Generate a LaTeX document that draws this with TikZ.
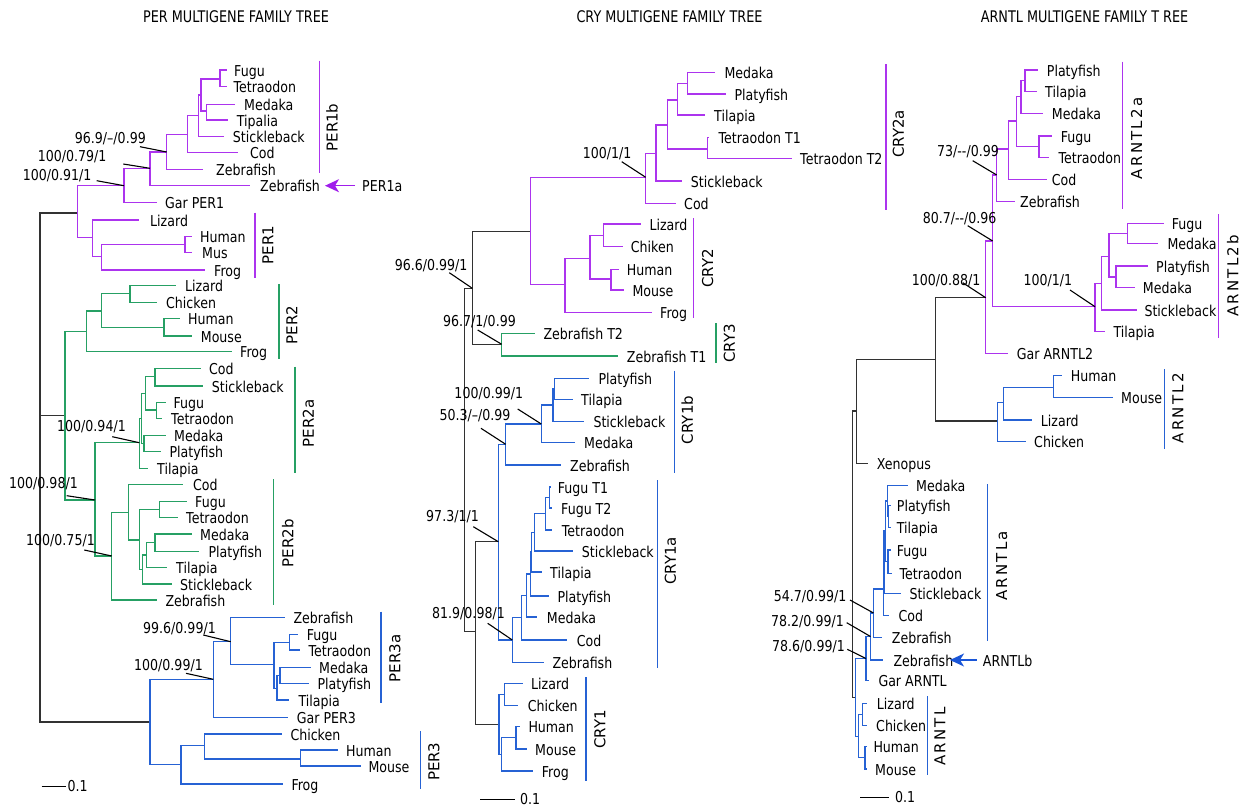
\documentclass[tikz,border=0pt]{standalone}
\usepackage{fontspec}
\setmainfont{DejaVu Sans}[FakeStretch=0.84]
\newfontfamily\barfont{DejaVu Sans}
\newfontfamily\barfontsp{DejaVu Sans}[LetterSpace=15]
\newfontfamily\titlefont{DejaVu Sans}[FakeStretch=0.8]
\usetikzlibrary{arrows.meta}
\definecolor{purp}{RGB}{172,52,238}
\definecolor{grn}{RGB}{38,160,100}
\definecolor{blu}{RGB}{38,98,212}
\definecolor{blk}{RGB}{50,50,50}
\definecolor{arrp}{RGB}{160,30,235}
\definecolor{arrb}{RGB}{25,85,215}
\tikzset{
  lab/.style={font=\fontsize{15}{18}\selectfont, inner sep=0pt, text=black},
  ptr/.style={draw=black, line width=1.1pt},
  tr/.style={line width=1.2pt},
  bar/.style={line width=1.4pt},
  barlab/.style={font={\barfont\fontsize{15}{18}\selectfont}, rotate=90, inner sep=0pt},
  barlabsp/.style={font={\barfontsp\fontsize{15}{18}\selectfont}, rotate=90, inner sep=0pt},
  ttl/.style={font={\titlefont\fontsize{16}{19}\selectfont}, inner sep=0pt, anchor=base},
  arrowp/.style={draw=arrp, line width=1.5pt, -{Stealth[length=14pt,width=13pt,inset=4pt,fill=arrp]}},
  arrowb/.style={draw=arrb, line width=1.5pt, -{Stealth[length=14pt,width=13pt,inset=4pt,fill=arrb]}}
}
\newcommand{\mkleaf}[5]{\coordinate (#1) at (#2,#3);\node[lab,anchor=base west] (#1-l) at (#4,#3+6) {#5};}
\newcommand{\mkclade}[3]{\foreach \chld in {#3}{\draw[tr,#1] (#2) |- (\chld);}}
\newcommand{\mkboot}[7]{\node[lab,anchor=base east] (#1) at (#2,#3) {#4};\coordinate (#1-s) at (#5,#6);\draw[ptr] (#1-s) -- (#7);}
\newcommand{\mkbar}[8]{\coordinate (#8-a) at (#2,#3);\coordinate (#8-b) at (#2,#4);\draw[bar,#1] (#8-a) -- (#8-b);\node[#7] (#8) at (#5,#6) {#8};}
\begin{document}
\begin{tikzpicture}[x=1pt,y=-1pt]
\useasboundingbox (0,0) rectangle (1240,806);
% titles
\node[ttl] (t1) at (236,22) {PER MULTIGENE FAMILY TREE};
\node[ttl] (t2) at (669.5,22) {CRY MULTIGENE FAMILY TREE};
\node[ttl] (t3) at (1084.5,22) {ARNTL MULTIGENE FAMILY T REE};

% ================= PER =================
\coordinate (p0) at (40,415);
\coordinate (pA) at (77.7,213);
\coordinate (pK) at (65,415.5);
\coordinate (pW) at (150,722);
\mkclade{blk}{p0}{pA,pK,pW}
% purple PER1
\coordinate (pB) at (124,185.7);
\coordinate (pC) at (92.7,237.7);
\coordinate (pD) at (150,168.3);
\coordinate (pE) at (166.7,152);
\coordinate (pF) at (187.7,134.3);
\coordinate (pG) at (198.7,115.7);
\coordinate (pH) at (201,95);
\coordinate (pFT) at (220,79);
\coordinate (pMT) at (206.7,111);
\coordinate (pI) at (101.7,256.7);
\coordinate (pJ) at (185,244.7);
\mkleaf{garP1}{157}{202.3}{165}{Gar PER1}
\mkleaf{zfP1a}{250}{185.7}{260}{Zebrafish}
\mkleaf{zfP1b}{203.3}{169.3}{216}{Zebrafish}
\mkleaf{codP1}{238}{152.3}{250}{Cod}
\mkleaf{stkP1}{224}{136.7}{232.7}{Stickleback}
\mkleaf{fugP1}{226.7}{70}{234}{Fugu}
\mkleaf{tetP1}{226.7}{86.7}{233.3}{Tetraodon}
\mkleaf{medP1}{235}{104.3}{244}{Medaka}
\mkleaf{tipP1}{227.7}{120}{236.7}{Tipalia}
\mkleaf{lizP1}{139.3}{220}{150}{Lizard}
\mkleaf{frogP1}{205}{270}{214}{Frog}
\mkleaf{humP1}{191.7}{236.7}{200}{Human}
\mkleaf{musP1}{191.7}{252.3}{202}{Mus}
\mkclade{purp}{pA}{pB,pC}
\mkclade{purp}{pB}{pD,garP1}
\mkclade{purp}{pD}{pE,zfP1a}
\mkclade{purp}{pE}{pF,zfP1b}
\mkclade{purp}{pF}{pG,codP1}
\mkclade{purp}{pG}{pH,stkP1}
\mkclade{purp}{pH}{pFT,pMT}
\mkclade{purp}{pFT}{fugP1,tetP1}
\mkclade{purp}{pMT}{medP1,tipP1}
\mkclade{purp}{pC}{lizP1,pI}
\mkclade{purp}{pI}{pJ,frogP1}
\mkclade{purp}{pJ}{humP1,musP1}
% green PER2
\coordinate (pL) at (86.7,331.7);
\coordinate (pM) at (95,500);
\coordinate (pN) at (101.7,311);
\coordinate (pO) at (130,293.3);
\coordinate (pP) at (164,327.3);
\coordinate (pQ) at (139.3,442.7);
\coordinate (pQ2) at (141.7,418.3);
\coordinate (pQ3) at (145.7,393.3);
\coordinate (pCS) at (155,376.7);
\coordinate (pFT2) at (156.7,410);
\coordinate (pMP) at (144,443.3);
\coordinate (pR) at (111.7,556);
\coordinate (pS) at (128.3,512.3);
\coordinate (pT) at (139.3,540);
\coordinate (pFT3) at (159.3,509.3);
\coordinate (pU) at (142.7,569.3);
\coordinate (pV) at (146.7,555);
\coordinate (pMP2) at (155,542.7);
\mkleaf{frogP2}{231.7}{351.7}{240}{Frog}
\mkleaf{lizP2}{176}{285.7}{185}{Lizard}
\mkleaf{chiP2}{157}{302.3}{166}{Chicken}
\mkleaf{humP2}{180}{318.3}{188}{Human}
\mkleaf{mouP2}{192}{336}{200.7}{Mouse}
\mkleaf{tilP2a}{148.3}{468.3}{157}{Tilapia}
\mkleaf{codP2a}{201}{368.3}{209}{Cod}
\mkleaf{stkP2a}{202.7}{386}{211.7}{Stickleback}
\mkleaf{fugP2a}{165.7}{402.3}{173.3}{Fugu}
\mkleaf{tetP2a}{162.3}{418.3}{171}{Tetraodon}
\mkleaf{medP2a}{165.7}{435.7}{174}{Medaka}
\mkleaf{plaP2a}{161}{451.7}{169.3}{Platyfish}
\mkleaf{zfP2b}{156.7}{600}{165.3}{Zebrafish}
\mkleaf{codP2b}{183.3}{484.3}{193}{Cod}
\mkleaf{fugP2b}{186.7}{501.7}{195}{Fugu}
\mkleaf{tetP2b}{177.7}{517.7}{186}{Tetraodon}
\mkleaf{stkP2b}{171.7}{584}{180}{Stickleback}
\mkleaf{tilP2b}{166.7}{567.7}{176}{Tilapia}
\mkleaf{medP2b}{191.7}{534}{200}{Medaka}
\mkleaf{plaP2b}{199.3}{551.7}{208.3}{Platyfish}
\mkclade{grn}{pK}{pL,pM}
\mkclade{grn}{pL}{pN,frogP2}
\mkclade{grn}{pN}{pO,pP}
\mkclade{grn}{pO}{lizP2,chiP2}
\mkclade{grn}{pP}{humP2,mouP2}
\mkclade{grn}{pM}{pQ,pR}
\mkclade{grn}{pQ}{pQ2,tilP2a}
\mkclade{grn}{pQ2}{pQ3,pMP}
\mkclade{grn}{pQ3}{pCS,pFT2}
\mkclade{grn}{pCS}{codP2a,stkP2a}
\mkclade{grn}{pFT2}{fugP2a,tetP2a}
\mkclade{grn}{pMP}{medP2a,plaP2a}
\mkclade{grn}{pR}{pS,zfP2b}
\mkclade{grn}{pS}{codP2b,pT}
\mkclade{grn}{pT}{pFT3,pU}
\mkclade{grn}{pFT3}{fugP2b,tetP2b}
\mkclade{grn}{pU}{pV,stkP2b}
\mkclade{grn}{pV}{pMP2,tilP2b}
\mkclade{grn}{pMP2}{medP2b,plaP2b}
% blue PER3
\coordinate (pX) at (213.3,679.3);
\coordinate (pY) at (181,764.3);
\coordinate (pZ) at (230.7,641.7);
\coordinate (pAA) at (274,664.3);
\coordinate (pFT4) at (289.3,642.7);
\coordinate (pAB) at (277,688.3);
\coordinate (pMP3) at (280,675.7);
\coordinate (pAC) at (204.3,745.7);
\coordinate (pHM) at (300.3,759);
\mkleaf{garP3}{288}{717.7}{296.7}{Gar PER3}
\mkleaf{zfP3}{285}{617.7}{293.3}{Zebrafish}
\mkleaf{fugP3}{298.3}{634.3}{306.7}{Fugu}
\mkleaf{tetP3}{300}{650}{308.3}{Tetraodon}
\mkleaf{tilP3}{289.3}{700}{298.3}{Tilapia}
\mkleaf{medP3}{311}{667.7}{319}{Medaka}
\mkleaf{plaP3}{309.3}{683.7}{317.3}{Platyfish}
\mkleaf{frogP3}{283}{784}{291.3}{Frog}
\mkleaf{chiP3}{282}{734}{290.3}{Chicken}
\mkleaf{humP3}{338.3}{750}{346}{Human}
\mkleaf{mouP3}{360.7}{766}{368.3}{Mouse}
\mkclade{blu}{pW}{pX,pY}
\mkclade{blu}{pX}{pZ,garP3}
\mkclade{blu}{pZ}{zfP3,pAA}
\mkclade{blu}{pAA}{pFT4,pAB}
\mkclade{blu}{pFT4}{fugP3,tetP3}
\mkclade{blu}{pAB}{pMP3,tilP3}
\mkclade{blu}{pMP3}{medP3,plaP3}
\mkclade{blu}{pY}{pAC,frogP3}
\mkclade{blu}{pAC}{chiP3,pHM}
\mkclade{blu}{pHM}{humP3,mouP3}
% PER supports
\mkboot{bP1}{146}{143}{96.9/–/0.99}{140}{146.7}{pE}
\mkboot{bP2}{106.7}{161.7}{100/0.79/1}{123.3}{164}{pD}
\mkboot{bP3}{91.7}{180.7}{100/0.91/1}{96.7}{180.7}{pB}
\mkboot{bP4}{126}{431.7}{100/0.94/1}{112.3}{436.7}{pQ}
\mkboot{bP5}{78}{488}{100/0.98/1}{66.7}{495.7}{pM}
\mkboot{bP6}{95}{545}{100/0.75/1}{84.3}{550}{pR}
\mkboot{bP7}{216}{633}{99.6/0.99/1}{203.3}{635}{pZ}
\mkboot{bP8}{203}{670}{100/0.99/1}{186}{673.3}{pX}
% PER bars
\mkbar{purp}{319.3}{60.7}{173}{332}{127.5}{barlab}{PER1b}
\mkbar{purp}{255}{212.7}{278.3}{268}{245}{barlab}{PER1}
\mkbar{grn}{279}{284.3}{359.3}{291.7}{325}{barlab}{PER2}
\mkbar{grn}{295}{366.7}{473.3}{308.3}{423.3}{barlab}{PER2a}
\mkbar{grn}{273.3}{479.3}{605}{287.7}{543.3}{barlab}{PER2b}
\mkbar{blu}{381}{611.7}{702.7}{395}{658.3}{barlab}{PER3a}
\mkbar{blu}{420.3}{731}{789.3}{434}{761.7}{barlab}{PER3}
% PER1a arrow
\node[lab,anchor=base west] (per1a) at (362,191.7) {PER1a};
\coordinate (per1aS) at (355,185.7);
\coordinate (per1aT) at (325,185.7);
\draw[arrowp] (per1aS) -- (per1aT);
% scale
\coordinate (sb1a) at (41.7,786.7);
\coordinate (sb1b) at (65.7,786.7);
\draw[ptr] (sb1a) -- (sb1b);
\node[lab,anchor=base west] (sb1) at (67.5,791.5) {0.1};

% ================= CRY =================
\coordinate (c0) at (464.3,460);
\coordinate (c1) at (472.3,288.3);
\coordinate (c2) at (475.7,631.7);
\coordinate (cA) at (530.7,231.7);
\coordinate (c3y) at (501.7,344.3);
\coordinate (c3) at (498.3,541.7);
\coordinate (cY1) at (499,724.3);
\mkclade{blk}{c0}{c1,c2}
\mkclade{blk}{c1}{cA,c3y}
\mkclade{blk}{c2}{c3,cY1}
% blue CRY1
\coordinate (c1b) at (505.7,444.3);
\coordinate (c1a) at (512.3,640);
\coordinate (c4) at (541.3,424);
\coordinate (c5) at (553,405);
\coordinate (c6) at (554.3,388.3);
\coordinate (c7) at (521.7,617.3);
\coordinate (c8) at (526.7,595.7);
\coordinate (s3) at (530.7,574);
\coordinate (s2) at (531.7,552);
\coordinate (s1) at (534.3,532.3);
\coordinate (ftt) at (545.7,513.7);
\coordinate (ft) at (549.3,497.5);
\coordinate (lc) at (504.3,694.5);
\coordinate (hmf) at (501.7,754.3);
\coordinate (hm) at (516,737.8);
\mkleaf{zfC1b}{560.7}{465}{570}{Zebrafish}
\mkleaf{medC1b}{575}{442.3}{584}{Medaka}
\mkleaf{stkC1b}{584.3}{421.7}{593.3}{Stickleback}
\mkleaf{plaC1b}{589.3}{378.3}{598.3}{Platyfish}
\mkleaf{tilC1b}{572.7}{399.3}{581}{Tilapia}
\mkleaf{zfC1a}{544}{662.3}{552.3}{Zebrafish}
\mkleaf{codC1a}{566.7}{640}{576.7}{Cod}
\mkleaf{medC1a}{537.3}{617}{546.7}{Medaka}
\mkleaf{plaC1a}{549.3}{596}{557.3}{Platyfish}
\mkleaf{tilC1a}{541.7}{572}{550}{Tilapia}
\mkleaf{stkC1a}{573.3}{551}{581.7}{Stickleback}
\mkleaf{tetC1a}{552.3}{530}{561.7}{Tetraodon}
\mkleaf{fT1}{550.5}{487}{557.7}{Fugu T1}
\mkleaf{fT2}{551.5}{508}{561}{Fugu T2}
\mkleaf{lizC1}{522.7}{683.3}{531}{Lizard}
\mkleaf{chiC1}{518.3}{705.7}{527.7}{Chicken}
\mkleaf{frogC1}{532.7}{771}{541.7}{Frog}
\mkleaf{humC1}{520}{726.7}{528.3}{Human}
\mkleaf{mouC1}{526.7}{749}{535}{Mouse}
\mkclade{blu}{c3}{c1b,c1a}
\mkclade{blu}{c1b}{c4,zfC1b}
\mkclade{blu}{c4}{c5,medC1b}
\mkclade{blu}{c5}{c6,stkC1b}
\mkclade{blu}{c6}{plaC1b,tilC1b}
\mkclade{blu}{c1a}{c7,zfC1a}
\mkclade{blu}{c7}{c8,codC1a}
\mkclade{blu}{c8}{s3,medC1a}
\mkclade{blu}{s3}{s2,plaC1a}
\mkclade{blu}{s2}{s1,tilC1a}
\mkclade{blu}{s1}{ftt,stkC1a}
\mkclade{blu}{ftt}{ft,tetC1a}
\mkclade{blu}{ft}{fT1,fT2}
\mkclade{blu}{cY1}{lc,hmf}
\mkclade{blu}{lc}{lizC1,chiC1}
\mkclade{blu}{hmf}{hm,frogC1}
\mkclade{blu}{hm}{humC1,mouC1}
% purple CRY2
\coordinate (c2a) at (645.7,177.3);
\coordinate (c2t) at (565,284.3);
\coordinate (a1) at (656,153.3);
\coordinate (a2) at (667.7,125);
\coordinate (a3) at (677.3,100);
\coordinate (mp) at (687.3,83.3);
\coordinate (tt) at (707.7,149);
\coordinate (c2u) at (590,258.3);
\coordinate (lc2) at (603.3,235.7);
\coordinate (hm2) at (611,279);
\mkleaf{codC2}{675.7}{203.3}{684}{Cod}
\mkleaf{stkC2}{682.3}{181}{690.7}{Stickleback}
\mkleaf{tilC2}{705}{115}{714}{Tilapia}
\mkleaf{medC2}{715}{72.3}{724.3}{Medaka}
\mkleaf{plaC2}{726}{94}{734.3}{Platyfish}
\mkleaf{tT1}{708.5}{137.7}{718.3}{Tetraodon T1}
\mkleaf{tT2}{791.7}{158.3}{800}{Tetraodon T2}
\mkleaf{frogC2}{651.7}{312.7}{660}{Frog}
\mkleaf{lizC2}{641}{224}{649.3}{Lizard}
\mkleaf{chkC2}{622.7}{246.7}{630.7}{Chiken}
\mkleaf{humC2}{619}{269.3}{626.7}{Human}
\mkleaf{mouC2}{624.3}{290}{632.3}{Mouse}
\mkclade{purp}{cA}{c2a,c2t}
\mkclade{purp}{c2a}{a1,codC2}
\mkclade{purp}{a1}{a2,stkC2}
\mkclade{purp}{a2}{a3,tt}
\mkclade{purp}{a3}{mp,tilC2}
\mkclade{purp}{mp}{medC2,plaC2}
\mkclade{purp}{tt}{tT1,tT2}
\mkclade{purp}{c2t}{c2u,frogC2}
\mkclade{purp}{c2u}{lc2,hm2}
\mkclade{purp}{lc2}{lizC2,chkC2}
\mkclade{purp}{hm2}{humC2,mouC2}
% green CRY3
\mkleaf{zfT2}{535}{333.3}{543.3}{Zebrafish T2}
\mkleaf{zfT1}{617.7}{356}{626.7}{Zebrafish T1}
\mkclade{grn}{c3y}{zfT2,zfT1}
% CRY supports
\mkboot{bC1}{631.7}{158}{100/1/1}{621.7}{161.7}{c2a}
\mkboot{bC2}{467.7}{270.5}{96.6/0.99/1}{449.3}{272.7}{c1}
\mkboot{bC3}{516}{326.5}{96.7/1/0.99}{477.7}{330}{c3y}
\mkboot{bC4}{523.3}{398.3}{100/0.99/1}{517.7}{409}{c4}
\mkboot{bC5}{510.7}{420.5}{50.3/–/0.99}{481}{428.3}{c1b}
\mkboot{bC6}{479}{521.5}{97.3/1/1}{473.3}{526.7}{c3}
\mkboot{bC7}{505}{618.3}{81.9/0.98/1}{487.7}{623.3}{c1a}
% CRY bars
\mkbar{purp}{886}{64}{210}{898.5}{134}{barlab}{CRY2a}
\mkbar{purp}{693.7}{218.3}{318.3}{707.7}{268.3}{barlab}{CRY2}
\mkbar{grn}{716}{323.3}{363.3}{729.5}{343.3}{barlab}{CRY3}
\mkbar{blu}{674.3}{370.7}{472.7}{687.3}{420}{barlab}{CRY1b}
\mkbar{blu}{657.7}{480}{667.7}{670.5}{561}{barlab}{CRY1a}
\mkbar{blu}{586}{677.3}{780.7}{600}{729.3}{barlab}{CRY1}
% scale
\coordinate (sb2a) at (480,799.3);
\coordinate (sb2b) at (515,799.3);
\draw[ptr] (sb2a) -- (sb2b);
\node[lab,anchor=base west] (sb2) at (520,804) {0.1};

% ================= ARNTL =================
\coordinate (r0) at (852.3,554);
\coordinate (r1) at (856.7,411);
\coordinate (br) at (855.7,697.5);
\coordinate (r2) at (935.7,359.3);
\coordinate (pa0) at (985.7,297.7);
\coordinate (b0) at (997.7,421);
\mkleaf{xen}{868.3}{463.3}{876.7}{Xenopus}
\mkclade{blk}{r0}{r1,br}
\mkclade{blk}{r1}{r2,xen}
\mkclade{blk}{r2}{pa0,b0}
% purple ARNTL2
\coordinate (pa1) at (992.7,241);
\coordinate (pa2) at (996.7,175);
\coordinate (pa3) at (1095,306.7);
\coordinate (pa4) at (1008.3,149);
\coordinate (pa5) at (1016.7,121);
\coordinate (pa6) at (1021,96.3);
\coordinate (ptA) at (1025,80.8);
\coordinate (ftA) at (1039,146.7);
\coordinate (q1) at (1101.7,283.3);
\coordinate (q2) at (1109,256.7);
\coordinate (fm) at (1127.7,233.5);
\coordinate (pm) at (1116,277);
\mkleaf{garA2}{1008.3}{353.3}{1016.7}{Gar ARNTL2}
\mkleaf{zfA2}{1015}{201.7}{1020}{Zebrafish}
\mkleaf{codA2}{1047.3}{179.3}{1051.7}{Cod}
\mkleaf{medA2}{1043.3}{113.3}{1051.7}{Medaka}
\mkleaf{plaA2}{1038.3}{70}{1046.7}{Platyfish}
\mkleaf{tilA2}{1036.7}{91.7}{1045}{Tilapia}
\mkleaf{fugA2}{1052.3}{136}{1060.7}{Fugu}
\mkleaf{tetA2}{1049.3}{157.3}{1058.3}{Tetraodon}
\mkleaf{tilB}{1105}{331.7}{1113.3}{Tilapia}
\mkleaf{stkB}{1136.7}{310}{1144.3}{Stickleback}
\mkleaf{fugB}{1164}{223.3}{1171.7}{Fugu}
\mkleaf{medB1}{1158.3}{243.3}{1167.3}{Medaka}
\mkleaf{plaB}{1148.3}{266}{1156}{Platyfish}
\mkleaf{medB2}{1135}{287.3}{1142.7}{Medaka}
\mkclade{purp}{pa0}{pa1,garA2}
\mkclade{purp}{pa1}{pa2,pa3}
\mkclade{purp}{pa2}{pa4,zfA2}
\mkclade{purp}{pa4}{pa5,codA2}
\mkclade{purp}{pa5}{pa6,ftA}
\mkclade{purp}{pa6}{ptA,medA2}
\mkclade{purp}{ptA}{plaA2,tilA2}
\mkclade{purp}{ftA}{fugA2,tetA2}
\mkclade{purp}{pa3}{q1,tilB}
\mkclade{purp}{q1}{q2,stkB}
\mkclade{purp}{q2}{fm,pm}
\mkclade{purp}{fm}{fugB,medB1}
\mkclade{purp}{pm}{plaB,medB2}
% blue ARNTL2
\coordinate (b1) at (1003.3,402.7);
\coordinate (hmA) at (1053.3,387.7);
\mkleaf{chkA2}{1025.7}{441.7}{1034}{Chicken}
\mkleaf{lizA2}{1032.3}{420}{1040.7}{Lizard}
\mkleaf{humA2}{1062.3}{375.7}{1070.7}{Human}
\mkleaf{mouA2}{1112.7}{397.7}{1121}{Mouse}
\mkclade{blu}{b0}{b1,chkA2}
\mkclade{blu}{b1}{hmA,lizA2}
\mkclade{blu}{hmA}{humA2,mouA2}
% blue ARNTL
\coordinate (n1) at (866,658.5);
\coordinate (tet) at (858.3,736.7);
\coordinate (n2) at (870.5,636.5);
\coordinate (n3) at (873.5,613);
\coordinate (n4) at (883.3,589);
\coordinate (n5) at (884,562);
\coordinate (n6) at (885.5,531);
\coordinate (n7) at (887.3,501);
\coordinate (ptA1) at (888.5,516.7);
\coordinate (ftA1) at (888,561.7);
\coordinate (lcA) at (862.3,714.3);
\coordinate (hmA1) at (865,757.8);
\mkleaf{garA}{869.3}{680.5}{878.3}{Gar ARNTL}
\mkleaf{zfb}{883.3}{660}{893.3}{Zebrafish}
\mkleaf{zfa}{881.7}{637.3}{891.7}{Zebrafish}
\mkleaf{codA1}{889.3}{615.7}{898.3}{Cod}
\mkleaf{stkA1}{900.7}{593.3}{909.3}{Stickleback}
\mkleaf{medA1}{908.3}{485.7}{916}{Medaka}
\mkleaf{plaA1}{891}{505.7}{896.7}{Platyfish}
\mkleaf{tilA1}{891}{527.7}{896.7}{Tilapia}
\mkleaf{fugA1}{891}{550}{896.7}{Fugu}
\mkleaf{tetA1}{891.5}{573.3}{899.3}{Tetraodon}
\mkleaf{lizA}{866.7}{703.3}{876.7}{Lizard}
\mkleaf{chkA}{866.7}{725.3}{876}{Chicken}
\mkleaf{humA}{866.5}{746.7}{873.3}{Human}
\mkleaf{mouA}{866.5}{769}{875}{Mouse}
\mkclade{blu}{br}{n1,tet}
\mkclade{blu}{n1}{n2,garA}
\mkclade{blu}{n2}{n3,zfb}
\mkclade{blu}{n3}{n4,zfa}
\mkclade{blu}{n4}{n5,codA1}
\mkclade{blu}{n5}{n6,stkA1}
\mkclade{blu}{n6}{n7,ftA1}
\mkclade{blu}{n7}{medA1,ptA1}
\mkclade{blu}{ptA1}{plaA1,tilA1}
\mkclade{blu}{ftA1}{fugA1,tetA1}
\mkclade{blu}{tet}{lcA,hmA1}
\mkclade{blu}{lcA}{lizA,chkA}
\mkclade{blu}{hmA1}{humA,mouA}
% ARNTL supports
\mkboot{bA1}{999}{156.5}{73/-{}-/0.99}{972.7}{160.7}{pa2}
\mkboot{bA2}{996.7}{223}{80.7/-{}-/0.96}{967.7}{225.7}{pa1}
\mkboot{bA3}{980.7}{285}{100/0.88/1}{962.7}{282.7}{pa0}
\mkboot{bA4}{1072.3}{285}{100/1/1}{1070}{290}{pa3}
\mkboot{bA5}{846.7}{601.5}{54.7/0.99/1}{850}{600}{n3}
\mkboot{bA6}{844}{626.5}{78.2/0.99/1}{846.7}{622.7}{n2}
\mkboot{bA7}{845}{651.5}{78.6/0.99/1}{847.3}{649.3}{n1}
% ARNTL bars
\mkbar{purp}{1122.7}{61.7}{209.3}{1136.7}{138.3}{barlabsp}{ARNTL2a}
\mkbar{purp}{1218.3}{214}{338.3}{1232.7}{276}{barlabsp}{ARNTL2b}
\mkbar{blu}{1164.3}{369.3}{449.3}{1177.7}{408.3}{barlabsp}{ARNTL2}
\mkbar{blu}{987.7}{484}{641}{1001.7}{566}{barlabsp}{ARNTLa}
\mkbar{blu}{927.7}{696}{775}{940}{736.7}{barlabsp}{ARNTL}
% ARNTLb arrow
\node[lab,anchor=base west] (arntlb) at (982.7,666) {ARNTLb};
\coordinate (arbS) at (976.7,660);
\coordinate (arbT) at (950,660);
\draw[arrowb] (arbS) -- (arbT);
% scale
\coordinate (sb3a) at (860,797.3);
\coordinate (sb3b) at (889.3,797.3);
\draw[ptr] (sb3a) -- (sb3b);
\node[lab,anchor=base west] (sb3) at (895,802) {0.1};
\end{tikzpicture}
\end{document}
